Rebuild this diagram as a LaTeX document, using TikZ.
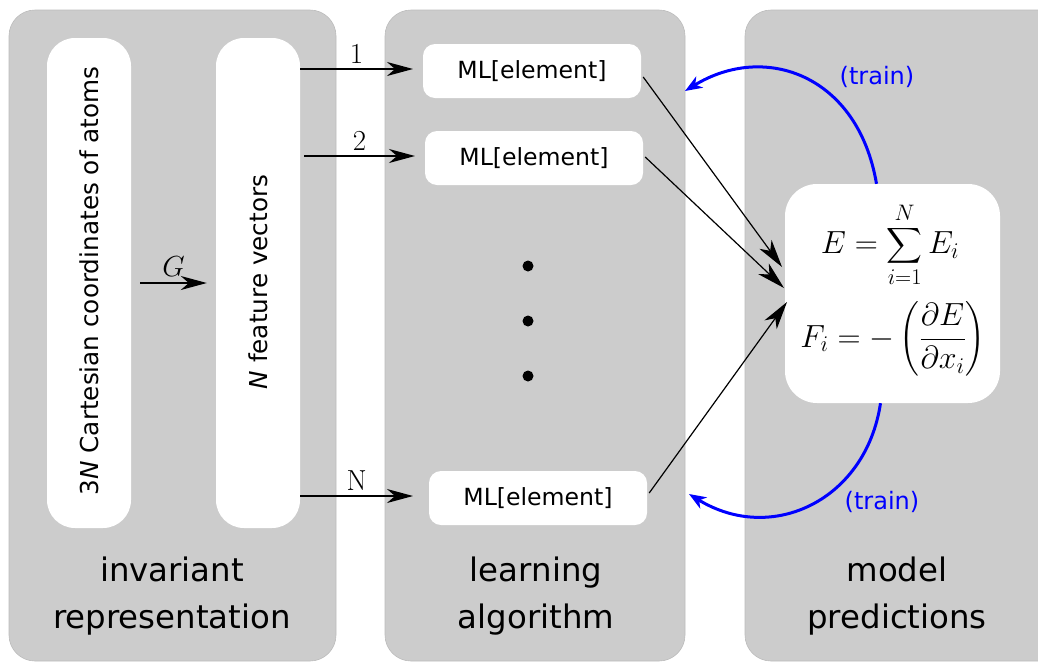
\RequirePackage{fix-cm}
\documentclass[tikz,border=0pt]{standalone}
\usepackage{exscale}
\usepackage[no-math]{fontspec}
\setmainfont{DejaVu Sans}
\usetikzlibrary{arrows.meta}
\definecolor{panelgray}{HTML}{CCCCCC}
\definecolor{paneledge}{HTML}{BBBBBB}
\begin{document}
\begin{tikzpicture}[x=1pt,y=-1pt,
  panel/.style={fill=panelgray, draw=paneledge, line width=0.6pt, rounded corners=26pt},
  tallbox/.style={fill=white, draw=none, rounded corners=28pt, minimum width=84pt, minimum height=490pt, inner sep=0pt},
  mlbox/.style={fill=white, draw=none, rounded corners=12pt, minimum width=218pt, minimum height=54pt, inner sep=0pt,
    font=\fontsize{23.6}{28}\selectfont},
  predbox/.style={fill=white, draw=none, rounded corners=32pt, minimum width=215pt, minimum height=219pt, inner sep=0pt},
  paneltext/.style={align=center, font=\fontsize{32.4}{47}\selectfont},
  vtext/.style={rotate=90, font=\fontsize{24.7}{30}\selectfont},
  mathlabel/.style={font=\fontsize{29}{32}\selectfont, inner sep=2pt},
  formula/.style={font=\fontsize{32}{36}\selectfont, inner sep=0pt},
  feed/.style={-{Stealth[length=26pt,width=14pt,inset=8pt]}, line width=1.4pt},
  mergearr/.style={-{Stealth[length=28pt,width=15pt,inset=8pt]}, line width=1.2pt},
  trainarr/.style={-{Stealth[length=17pt,width=13pt,inset=5pt]}, line width=3pt, blue},
  trainlabel/.style={text=blue, font=\fontsize{24}{28}\selectfont}]
\useasboundingbox (0,0) rectangle (1038,662);
\clip (0,0) rectangle (1038,662);

% three background panels
\draw[panel] (9,10) rectangle (336,661);
\draw[panel] (385,10) rectangle (685,661);
\draw[panel] (745,10) rectangle (1080,661);

% invariant representation
\node[tallbox] (ca) at (89,283) {};
\node[vtext] (catext) at (89,281) {3\textit{N} Cartesian coordinates of atoms};
\node[tallbox] (fb) at (258,283) {};
\node[vtext] (fbtext) at (258,282) {\textit{N} feature vectors};
\draw[feed] ([xshift=9pt]ca.east) -- node[mathlabel, above=4pt] (glab) {$G$} ([xshift=-9pt]fb.west);

% learning algorithm
\node[mlbox] (ml1) at (532,71) {ML[element]};
\node[mlbox] (ml2) at (534,158) {ML[element]};
\node[mlbox] (mln) at (538,498) {ML[element]};
\fill (528,266) circle (5.5pt);
\fill (528,321) circle (5.5pt);
\fill (528,376) circle (5.5pt);

\coordinate (a1) at (413,69);
\coordinate (a2) at (415,156);
\coordinate (an) at (413,496);
\draw[feed] (fb.east |- a1) -- node[mathlabel, above=3pt] (l1) {$1$} (a1);
\draw[feed] ([xshift=4pt]fb.east |- a2) -- node[mathlabel, above=3pt] (l2) {$2$} (a2);
\draw[feed] (fb.east |- an) -- node[mathlabel, above=3pt] (ln) {$\mathrm{N}$} (an);

% model predictions
\node[predbox] (pred) at (892.5,293.5) {};
\node[formula] (etot) at (890,245) {$\displaystyle E=\sum_{i=1}^{N}E_i$};
\node[formula] (force) at (893,339) {$\displaystyle F_i=-\left(\frac{\partial E}{\partial x_i}\right)$};

\coordinate (in1) at (782,267);
\coordinate (in2) at (784,288);
\coordinate (inn) at (787,302);
\draw[mergearr] ([shift={(2,6)}]ml1.east) -- (in1);
\draw[mergearr] ([shift={(2,-1)}]ml2.east) -- (in2);
\draw[mergearr] ([shift={(2,-5)}]mln.east) -- (inn);

% training feedback
\coordinate (back1) at (685,91);
\coordinate (backn) at (689,494);
\draw[trainarr] ([xshift=-16pt]pred.north) .. controls (858,75) and (765,42) .. (back1);
\draw[trainarr] ([xshift=-12pt]pred.south) .. controls (866,500) and (772,545) .. (backn);
\node[trainlabel] (tr1) at (877,77) {(train)};
\node[trainlabel] (tr2) at (882,502) {(train)};

% panel captions
\node[paneltext] (cap1) at (172,596) {invariant\\representation};
\node[paneltext] (cap2) at (536,596) {learning\\algorithm};
\node[paneltext] (cap3) at (897,596) {model\\predictions};
\end{tikzpicture}
\end{document}
